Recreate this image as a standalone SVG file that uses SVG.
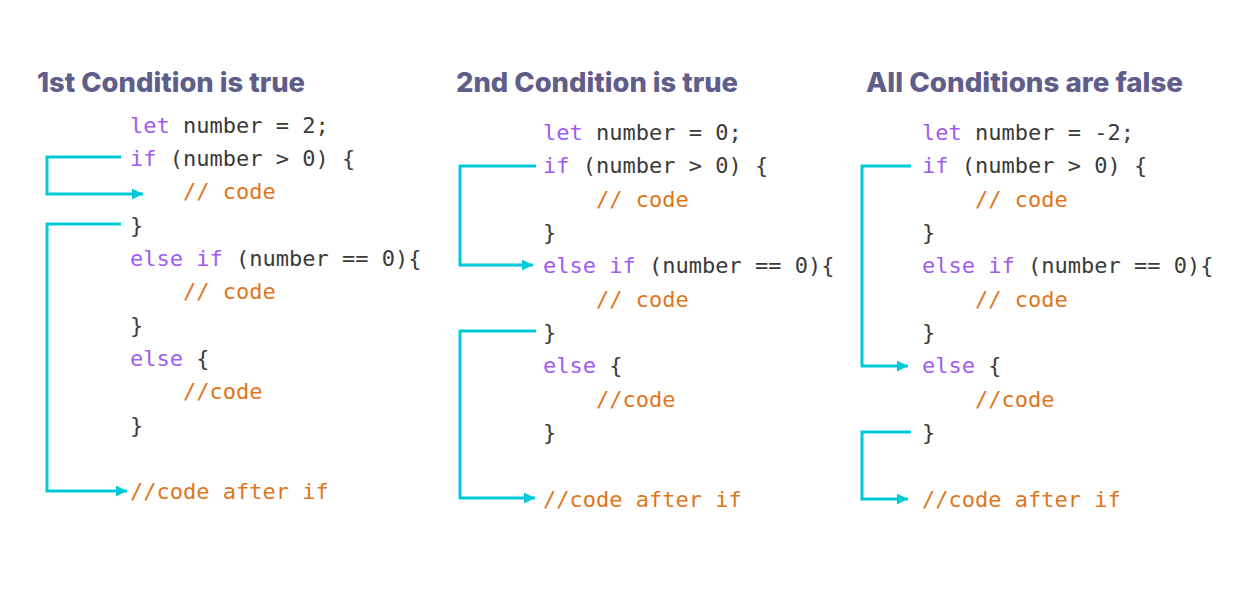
<svg xmlns="http://www.w3.org/2000/svg" width="1257" height="602" viewBox="0 0 1257 602">
<defs>
<style>
.h{font-family:Inter,"Liberation Sans",sans-serif;font-weight:800;font-size:27px;fill:#5f5e8b}
.c{font-family:"DejaVu Sans Mono","Liberation Mono",monospace;font-size:22px;fill:#3a3a3a}
.k{fill:#a05cf2}
.o{fill:#e0761c}
.a{fill:none;stroke:#00c9d8;stroke-width:3;marker-end:url(#ah)}
</style>
<marker id="ah" viewBox="0 0 10 10" refX="10" refY="5" markerWidth="11" markerHeight="11" markerUnits="userSpaceOnUse" orient="auto">
<path d="M0,0 L10,5 L0,10 z" fill="#00c9d8"/>
</marker>
</defs>
<rect width="1257" height="602" fill="#ffffff"/>
<g id="panel1">
<text class="h" x="37" y="92" textLength="268" lengthAdjust="spacingAndGlyphs">1st Condition is true</text>
<text class="c" x="130" y="132.5"><tspan class="k">let</tspan> number = 2;</text>
<text class="c" x="130" y="165.8"><tspan class="k">if</tspan> (number &gt; 0) {</text>
<text class="c o" x="183" y="199.2">// code</text>
<text class="c" x="130" y="232.5">}</text>
<text class="c" x="130" y="265.9"><tspan class="k">else if</tspan> (number == 0){</text>
<text class="c o" x="183" y="299.2">// code</text>
<text class="c" x="130" y="332.6">}</text>
<text class="c" x="130" y="365.9"><tspan class="k">else</tspan> {</text>
<text class="c o" x="183" y="399.3">//code</text>
<text class="c" x="130" y="432.6">}</text>
<text class="c o" x="130" y="499.3">//code after if</text>
</g>
<g id="panel2">
<text class="h" x="456" y="92" textLength="282" lengthAdjust="spacingAndGlyphs">2nd Condition is true</text>
<text class="c" x="543" y="140"><tspan class="k">let</tspan> number = 0;</text>
<text class="c" x="543" y="173.3"><tspan class="k">if</tspan> (number &gt; 0) {</text>
<text class="c o" x="596" y="206.7">// code</text>
<text class="c" x="543" y="240">}</text>
<text class="c" x="543" y="273.3"><tspan class="k">else if</tspan> (number == 0){</text>
<text class="c o" x="596" y="306.7">// code</text>
<text class="c" x="543" y="340">}</text>
<text class="c" x="543" y="373.3"><tspan class="k">else</tspan> {</text>
<text class="c o" x="596" y="406.7">//code</text>
<text class="c" x="543" y="440">}</text>
<text class="c o" x="543" y="506.7">//code after if</text>
</g>
<g id="panel3">
<text class="h" x="866" y="92" textLength="317" lengthAdjust="spacingAndGlyphs">All Conditions are false</text>
<text class="c" x="922" y="140"><tspan class="k">let</tspan> number = -2;</text>
<text class="c" x="922" y="173.3"><tspan class="k">if</tspan> (number &gt; 0) {</text>
<text class="c o" x="975" y="206.7">// code</text>
<text class="c" x="922" y="240">}</text>
<text class="c" x="922" y="273.3"><tspan class="k">else if</tspan> (number == 0){</text>
<text class="c o" x="975" y="306.7">// code</text>
<text class="c" x="922" y="340">}</text>
<text class="c" x="922" y="373.3"><tspan class="k">else</tspan> {</text>
<text class="c o" x="975" y="406.7">//code</text>
<text class="c" x="922" y="440">}</text>
<text class="c o" x="922" y="506.7">//code after if</text>
</g>
<g id="connectors">
<path class="a" d="M121,157 H47 V194 H143"/>
<path class="a" d="M121,224 H47 V491 H127"/>
<path class="a" d="M536,166 H460 V265 H533"/>
<path class="a" d="M536,331 H460 V498 H535"/>
<path class="a" d="M911,166 H862 V366 H908"/>
<path class="a" d="M911,432 H862 V499 H908"/>
</g>
</svg>
